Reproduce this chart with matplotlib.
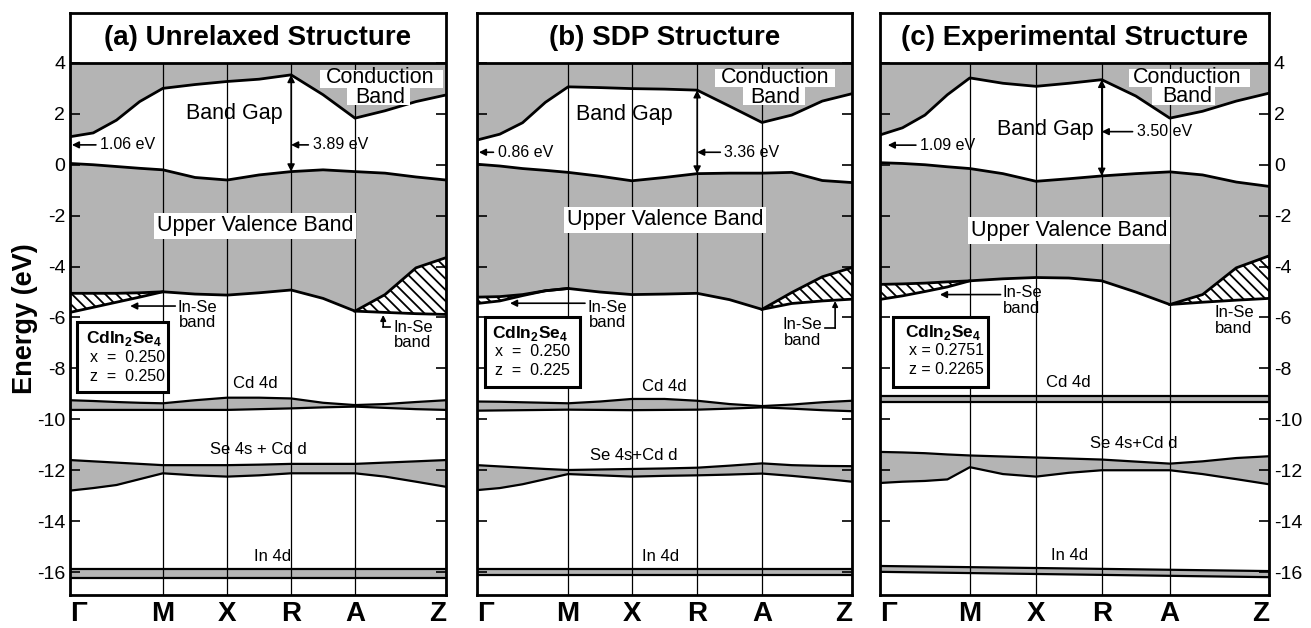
import numpy as np
import matplotlib.pyplot as plt
from matplotlib.patches import Rectangle

plt.rcParams['font.family'] = 'Liberation Sans'
plt.rcParams['mathtext.fontset'] = 'custom'
plt.rcParams['mathtext.rm'] = 'Liberation Sans'
plt.rcParams['mathtext.bf'] = 'Liberation Sans:bold'
plt.rcParams['hatch.linewidth'] = 1.3
plt.rcParams['axes.unicode_minus'] = False

# k-path: segment index (G=0, M=1, X=2, R=3, A=4, Z=5)
k_labels = ['Γ', 'M', 'X', 'R', 'A', 'Z']
seg = [0, 1, 2, 3, 4, 5]
s_full = [0, 0.25, 0.5, 0.75, 1, 1.5, 2, 2.5, 3, 3.5, 4, 4.33, 4.67, 5]
s_left = [0, 0.25, 0.5, 0.75, 1]
s_right = [4, 4.33, 4.67, 5]
s_ends = [0, 5]

# position of the k-points along each panel (fraction of width)
kpos_a = [0, 0.247, 0.418, 0.588, 0.758, 1]
kpos_b = [0, 0.243, 0.413, 0.587, 0.760, 1]
kpos_c = [0, 0.231, 0.401, 0.570, 0.745, 1]

# (a) unrelaxed structure
a_cb = [1.10, 1.25, 1.75, 2.48, 3.00, 3.15, 3.27, 3.36, 3.53, 2.75, 1.83, 2.12, 2.48, 2.74]
a_vbt = [0.05, 0.00, -0.07, -0.14, -0.20, -0.50, -0.60, -0.40, -0.27, -0.20, -0.27, -0.33, -0.48, -0.60]
a_vbb = [-5.05, -5.05, -5.05, -5.03, -4.99, -5.08, -5.12, -5.03, -4.92, -5.25, -5.75, -5.10, -4.05, -3.65]
a_inse_l = [-5.80, -5.60, -5.40, -5.20, -4.99]
a_inse_r = [-5.75, -5.80, -5.85, -5.88]
a_cd_top = [-9.25, -9.28, -9.32, -9.35, -9.37, -9.25, -9.15, -9.15, -9.18, -9.35, -9.44, -9.40, -9.32, -9.25]
a_cd_bot = [-9.63, -9.63, -9.63, -9.63, -9.63, -9.63, -9.63, -9.60, -9.57, -9.53, -9.50, -9.55, -9.60, -9.63]
a_se_top = [-11.60, -11.65, -11.70, -11.75, -11.80, -11.80, -11.80, -11.78, -11.75, -11.75, -11.75, -11.70, -11.65, -11.60]
a_se_bot = [-12.80, -12.70, -12.58, -12.35, -12.12, -12.20, -12.25, -12.20, -12.12, -12.12, -12.12, -12.25, -12.45, -12.65]
a_in_top = [-15.88, -15.88]
a_in_bot = [-16.25, -16.25]

# (b) SDP structure
b_cb = [0.97, 1.20, 1.65, 2.45, 3.06, 3.03, 2.99, 2.97, 2.93, 2.30, 1.66, 1.95, 2.50, 2.79]
b_vbt = [0.02, -0.05, -0.15, -0.22, -0.30, -0.45, -0.63, -0.50, -0.35, -0.33, -0.33, -0.30, -0.62, -0.70]
b_vbb = [-5.20, -5.18, -5.10, -4.95, -4.86, -5.00, -5.10, -5.08, -5.05, -5.30, -5.68, -5.02, -4.40, -4.04]
b_inse_l = [-5.45, -5.35, -5.14, -4.95, -4.86]
b_inse_r = [-5.68, -5.45, -5.35, -5.28]
b_cd_top = [-9.30, -9.31, -9.33, -9.35, -9.37, -9.30, -9.20, -9.20, -9.27, -9.40, -9.48, -9.42, -9.33, -9.27]
b_cd_bot = [-9.66, -9.65, -9.64, -9.63, -9.62, -9.63, -9.64, -9.63, -9.62, -9.58, -9.53, -9.58, -9.64, -9.68]
b_se_top = [-11.80, -11.85, -11.90, -11.95, -11.99, -11.97, -11.95, -11.93, -11.90, -11.82, -11.73, -11.80, -11.83, -11.84]
b_se_bot = [-12.78, -12.70, -12.55, -12.35, -12.15, -12.20, -12.25, -12.22, -12.20, -12.17, -12.13, -12.22, -12.33, -12.45]
b_in_top = [-15.88, -15.88]
b_in_bot = [-16.10, -16.10]

# (c) experimental structure
c_cb = [1.17, 1.45, 1.95, 2.75, 3.41, 3.20, 3.08, 3.20, 3.34, 2.70, 1.83, 2.10, 2.50, 2.81]
c_vbt = [0.08, 0.05, 0.00, -0.08, -0.15, -0.35, -0.65, -0.55, -0.44, -0.35, -0.28, -0.40, -0.68, -0.85]
c_vbb = [-4.70, -4.68, -4.65, -4.60, -4.56, -4.48, -4.43, -4.45, -4.56, -5.00, -5.49, -5.10, -4.05, -3.58]
c_inse_l = [-5.29, -5.15, -4.98, -4.80, -4.56]
c_inse_r = [-5.49, -5.40, -5.32, -5.25]
c_cd_top = [-9.08, -9.08]
c_cd_bot = [-9.31, -9.31]
c_se_top = [-11.28, -11.30, -11.33, -11.38, -11.42, -11.46, -11.50, -11.54, -11.58, -11.66, -11.74, -11.65, -11.52, -11.45]
c_se_bot = [-12.50, -12.45, -12.42, -12.36, -11.88, -12.15, -12.25, -12.10, -12.00, -12.00, -12.00, -12.15, -12.35, -12.55]
c_in_top = [-15.76, -15.96]
c_in_bot = [-15.99, -16.20]

GRAY = '#b4b4b4'
YMIN, YMAX = -16.9, 5.96
R_IDX = 8  # index of R in s_full


def draw_panel(ax, kpos, title, cb, vbt, vbb, inse_l, inse_r,
               cd_top, cd_bot, s_cd, se_top, se_bot, in_top, in_bot, s_in):
    x = np.interp(s_full, seg, kpos)
    xl = np.interp(s_left, seg, kpos)
    xr = np.interp(s_right, seg, kpos)
    xcd = np.interp(s_cd, seg, kpos)
    xin = np.interp(s_in, seg, kpos)

    # conduction band and upper valence band
    ax.fill_between(x, cb, 4, color=GRAY, lw=0, zorder=1)
    ax.fill_between(x, vbt, vbb, color=GRAY, lw=0, zorder=1)
    # In-Se bands (hatched)
    ax.fill_between(xl, vbb[:5], inse_l, facecolor='white', edgecolor='k',
                    hatch='\\\\\\', lw=0, zorder=1)
    ax.fill_between(xr, vbb[10:], inse_r, facecolor='white', edgecolor='k',
                    hatch='\\\\\\', lw=0, zorder=1)
    # lower bands
    ax.fill_between(xcd, cd_top, cd_bot, color=GRAY, lw=0, zorder=1)
    ax.fill_between(x, se_top, se_bot, color=GRAY, lw=0, zorder=1)
    ax.fill_between(xin, in_top, in_bot, color=GRAY, lw=0, zorder=1)

    ax.vlines(kpos, YMIN, 4, color='k', lw=0.9, zorder=2)

    for y in (cb, vbt, vbb):
        ax.plot(x, y, color='k', lw=2.0, zorder=3)
    ax.plot(xl, inse_l, color='k', lw=2.0, zorder=3)
    ax.plot(xr, inse_r, color='k', lw=2.0, zorder=3)
    for xx, y in ((xcd, cd_top), (xcd, cd_bot), (x, se_top), (x, se_bot),
                  (xin, in_top), (xin, in_bot)):
        ax.plot(xx, y, color='k', lw=1.6, zorder=3)

    # band gap arrow at R
    ax.annotate('', xy=(kpos[3], cb[R_IDX]), xytext=(kpos[3], vbt[R_IDX]),
                arrowprops=dict(arrowstyle='<|-|>', color='k', lw=1.0,
                                mutation_scale=11, shrinkA=0, shrinkB=0),
                zorder=4)

    ax.axhline(4, color='k', lw=2.0, zorder=4)
    ax.text(0.5, 4.98, title, ha='center', va='center', fontsize=20,
            fontweight='bold')

    ax.set_xlim(0, 1)
    ax.set_ylim(YMIN, YMAX)
    ax.set_yticks(range(-16, 5, 2))
    ax.set_xticks(kpos)
    ax.set_xticklabels(k_labels, fontsize=20, fontweight='bold')
    lbls = ax.get_xticklabels()
    lbls[0].set_ha('left')
    lbls[-1].set_ha('right')
    ax.tick_params(axis='x', length=0, pad=4)
    ax.tick_params(axis='y', direction='in', length=7, width=1.2,
                   left=True, right=True, labelleft=False, labelsize=14)
    for sp in ax.spines.values():
        sp.set_linewidth(2.0)
        sp.set_zorder(5)


def cond_label(ax, xc, yc, box1, box2):
    # white patches behind the two lines, then the label itself
    for (x0, x1, y0, y1) in (box1, box2):
        ax.add_patch(Rectangle((x0, y1), x1 - x0, y0 - y1, facecolor='white',
                               edgecolor='none', zorder=5))
    ax.text(xc, yc, 'Conduction\nBand', ha='center', va='center',
            multialignment='center', fontsize=15.5, linespacing=0.92,
            zorder=6)


def gap_label(ax, text, tip, tail, y):
    ax.annotate(text, xy=(tip, y), xytext=(tail, y), ha='left', va='center',
                fontsize=11.5,
                arrowprops=dict(arrowstyle='-|>', color='k', lw=1.2,
                                mutation_scale=10, shrinkA=1, shrinkB=0),
                zorder=6)


def box_label(ax, x0, x1, y0, y1, tx, ys, xval, zval):
    ax.add_patch(Rectangle((x0, y1), x1 - x0, y0 - y1, facecolor='white',
                           edgecolor='k', lw=2.2, zorder=6))
    ax.text(tx, ys[0], r'CdIn$_{\mathbf{2}}$Se$_{\mathbf{4}}$', fontsize=12.5,
            fontweight='bold', va='center', zorder=7)
    ax.text(tx + 0.01, ys[1], xval, fontsize=11.5, va='center', zorder=7)
    ax.text(tx + 0.01, ys[2], zval, fontsize=11.5, va='center', zorder=7)


def inse_label(ax, x, y):
    ax.text(x, y, 'In-Se\nband', ha='center', va='center', fontsize=12,
            linespacing=1.05, zorder=6)


def arrow(ax, tip, tail, ms=10):
    ax.annotate('', xy=tip, xytext=tail,
                arrowprops=dict(arrowstyle='-|>', color='k', lw=1.2,
                                mutation_scale=ms, shrinkA=0, shrinkB=0),
                zorder=6)


fig = plt.figure(figsize=(13.11, 6.28), dpi=100)
bottom = 1 - 595 / 628
height = (595 - 13) / 628
ax_a = fig.add_axes([70 / 1311, bottom, 376 / 1311, height])
ax_b = fig.add_axes([477 / 1311, bottom, 375 / 1311, height])
ax_c = fig.add_axes([880 / 1311, bottom, 389 / 1311, height])

# ---------- (a)
draw_panel(ax_a, kpos_a, '(a) Unrelaxed Structure', a_cb, a_vbt, a_vbb,
           a_inse_l, a_inse_r, a_cd_top, a_cd_bot, s_full, a_se_top, a_se_bot,
           a_in_top, a_in_bot, s_ends)
ax_a.tick_params(axis='y', labelleft=True)
cond_label(ax_a, 0.825, 3.03, (0.665, 0.992, 3.72, 3.02),
           (0.737, 0.905, 3.02, 2.35))
ax_a.text(0.436, 2.03, 'Band Gap', ha='center', va='center', fontsize=15.5,
          zorder=6)
ax_a.text(0.492, -2.4, 'Upper Valence Band', ha='center', va='center',
          fontsize=15.5, bbox=dict(facecolor='white', edgecolor='none', pad=2),
          zorder=6)
gap_label(ax_a, '1.06 eV', 0.005, 0.08, 0.78)
gap_label(ax_a, '3.89 eV', kpos_a[3], 0.645, 0.78)
inse_label(ax_a, 0.338, -5.9)
arrow(ax_a, (0.16, -5.55), (0.28, -5.55))
inse_label(ax_a, 0.912, -6.68)
ax_a.plot([0.833, 0.852], [-6.36, -6.36], color='k', lw=1.2, zorder=6)
arrow(ax_a, (0.833, -5.9), (0.833, -6.36), ms=8)
box_label(ax_a, 0.019, 0.26, -6.17, -8.92, 0.043, [-6.82, -7.57, -8.30],
          'x  =  0.250', 'z  =  0.250')
ax_a.text(0.493, -8.59, 'Cd 4d', ha='center', va='center', fontsize=12)
ax_a.text(0.50, -11.2, 'Se 4s + Cd d', ha='center', va='center', fontsize=12)
ax_a.text(0.54, -15.37, 'In 4d', ha='center', va='center', fontsize=12)

# ---------- (b)
draw_panel(ax_b, kpos_b, '(b) SDP Structure', b_cb, b_vbt, b_vbb,
           b_inse_l, b_inse_r, b_cd_top, b_cd_bot, s_full, b_se_top, b_se_bot,
           b_in_top, b_in_bot, s_ends)
cond_label(ax_b, 0.795, 3.03, (0.635, 0.955, 3.76, 3.04),
           (0.71, 0.875, 3.04, 2.33))
ax_b.text(0.392, 1.98, 'Band Gap', ha='center', va='center', fontsize=15.5,
          zorder=6)
ax_b.text(0.502, -2.17, 'Upper Valence Band', ha='center', va='center',
          fontsize=15.5, bbox=dict(facecolor='white', edgecolor='none', pad=2),
          zorder=6)
gap_label(ax_b, '0.86 eV', 0.005, 0.055, 0.49)
gap_label(ax_b, '3.36 eV', kpos_b[3], 0.66, 0.49)
inse_label(ax_b, 0.347, -5.9)
arrow(ax_b, (0.088, -5.44), (0.288, -5.44))
inse_label(ax_b, 0.867, -6.6)
ax_b.plot([0.928, 0.955], [-6.42, -6.42], color='k', lw=1.2, zorder=6)
arrow(ax_b, (0.955, -5.35), (0.955, -6.42), ms=8)
box_label(ax_b, 0.021, 0.275, -5.97, -8.74, 0.039, [-6.62, -7.34, -8.09],
          'x  =  0.250', 'z  =  0.225')
ax_b.text(0.50, -8.72, 'Cd 4d', ha='center', va='center', fontsize=12)
ax_b.text(0.419, -11.44, 'Se 4s+Cd d', ha='center', va='center', fontsize=12)
ax_b.text(0.49, -15.37, 'In 4d', ha='center', va='center', fontsize=12)

# ---------- (c)
draw_panel(ax_c, kpos_c, '(c) Experimental Structure', c_cb, c_vbt, c_vbb,
           c_inse_l, c_inse_r, c_cd_top, c_cd_bot, s_ends, c_se_top, c_se_bot,
           c_in_top, c_in_bot, s_ends)
ax_c.tick_params(axis='y', labelright=True)
cond_label(ax_c, 0.79, 3.05, (0.64, 0.95, 3.75, 3.05),
           (0.70, 0.86, 3.05, 2.33))
ax_c.text(0.424, 1.40, 'Band Gap', ha='center', va='center', fontsize=15.5,
          zorder=6)
ax_c.text(0.486, -2.59, 'Upper Valence Band', ha='center', va='center',
          fontsize=15.5, bbox=dict(facecolor='white', edgecolor='none', pad=2),
          zorder=6)
gap_label(ax_c, '1.09 eV', 0.02, 0.103, 0.77)
gap_label(ax_c, '3.50 eV', kpos_c[3], 0.66, 1.30)
inse_label(ax_c, 0.365, -5.33)
arrow(ax_c, (0.154, -5.10), (0.31, -5.10))
inse_label(ax_c, 0.91, -6.11)
box_label(ax_c, 0.034, 0.278, -6.0, -8.73, 0.064, [-6.57, -7.29, -8.03],
          'x = 0.2751', 'z = 0.2265')
ax_c.text(0.484, -8.56, 'Cd 4d', ha='center', va='center', fontsize=12)
ax_c.text(0.653, -10.95, 'Se 4s+Cd d', ha='center', va='center', fontsize=12)
ax_c.text(0.487, -15.33, 'In 4d', ha='center', va='center', fontsize=12)

fig.text(0.019, 0.492, 'Energy (eV)', rotation=90, ha='center', va='center',
         fontsize=19.5, fontweight='bold')

fig.savefig('out.png', dpi=100)
